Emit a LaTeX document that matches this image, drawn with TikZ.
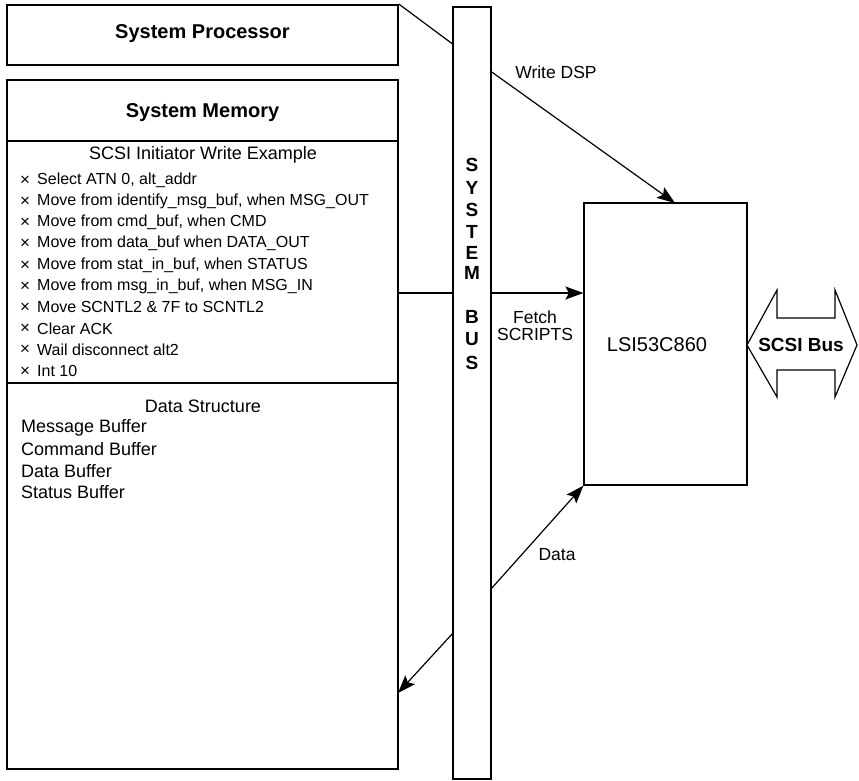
\documentclass[tikz,border=0pt]{standalone}
\usepackage{fontspec}
\setmainfont{Liberation Sans}
\usetikzlibrary{arrows.meta}
\begin{document}
\begin{tikzpicture}[x=1pt,y=-1pt,
  bigbox/.style={draw,line width=1.8pt,inner sep=0pt,minimum width=391pt},
  thinbox/.style={draw,line width=1.2pt,inner sep=0pt},
  conn/.style={line width=1.2pt},
  arr/.style={line width=1.2pt,-{Stealth[length=18pt,width=13pt,inset=3.5pt]}},
  hdr/.style={font=\fontsize{20}{24}\selectfont\bfseries,inner sep=0pt},
  item/.style={font=\fontsize{16}{19}\selectfont,inner sep=0pt,anchor=west},
  ds/.style={font=\fontsize{18}{21}\selectfont,inner sep=0pt},
  lbl/.style={font=\fontsize{17.5}{20}\selectfont,inner sep=0pt,align=center},
  busletter/.style={font=\fontsize{19}{22}\selectfont\bfseries,inner sep=0pt}]
\useasboundingbox (0,0) rectangle (859,780);
% boxes
\node[bigbox,minimum height=60pt] (proc) at (202.5,35) {};
\node[hdr] (proct) at (202.5,34) {System Processor};
\node[bigbox,minimum height=689pt] (mem) at (202.5,424.5) {};
\node[hdr] (memt) at (202.5,113) {System Memory};
\draw[line width=1.4pt] (mem.west |- 0,141) coordinate (d1a) -- (mem.east |- 0,141) coordinate (d1b);
\draw[line width=1.4pt] (mem.west |- 0,383) coordinate (d2a) -- (mem.east |- 0,383) coordinate (d2b);
\node[ds] (scsit) at (203,155) {SCSI Initiator Write Example};
\foreach \t [count=\i] in {{Select ATN 0, alt\_addr},
  {Move from identify\_msg\_buf, when MSG\_OUT},
  {Move from cmd\_buf, when CMD},
  {Move from data\_buf when DATA\_OUT},
  {Move from stat\_in\_buf, when STATUS},
  {Move from msg\_in\_buf, when MSG\_IN},
  {Move SCNTL2 \& 7F to SCNTL2},
  {Clear ACK},
  {Wail disconnect alt2},
  {Int 10}}{
  \node[item] (x\i) at (20,{180.5+(\i-1)*21.2}) {\fontsize{17}{19}\selectfont×};
  \node[item] (it\i) at (37,{180+(\i-1)*21.2}) {\t};
}
\node[ds] (dst) at (203,406) {Data Structure};
\node[ds,anchor=west] (ds1) at (21,428) {Message Buffer};
\node[ds,anchor=west] (ds2) at (21,449.5) {Command Buffer};
\node[ds,anchor=west] (ds3) at (21,471) {Data Buffer};
\node[ds,anchor=west] (ds4) at (21,492.5) {Status Buffer};
% system bus
\node[thinbox,minimum width=38pt,minimum height=772pt] (bus) at (472,393) {};
\foreach \l/\yy [count=\j] in {S/165,Y/188,S/210,T/232,E/253,M/273,B/317,U/339,S/363}
  \node[busletter] (bl\j) at (472,\yy) {\l};
% LSI chip
\node[thinbox,minimum width=163pt,minimum height=282pt] (lsi) at (665.5,344) {};
\node[font=\fontsize{20}{24}\selectfont,inner sep=0pt] (lsit) at (657,345) {LSI53C860};
% SCSI bus double arrow
\draw[line width=1.2pt] (747,345) -- (777,290) -- (777,318) -- (835,318) -- (835,290)
  -- (857,345) -- (835,397) -- (835,370) -- (777,370) -- (777,397) -- cycle;
\node[hdr,font=\fontsize{19}{22}\selectfont\bfseries] (scsib) at (801,345) {SCSI Bus};
% Write DSP
\coordinate (w1) at (453,44.3);
\coordinate (w2) at (491,71.5);
\coordinate (w3) at (675,203);
\draw[conn] (proc.north east) -- (w1);
\draw[arr] (w2) -- (w3);
\node[lbl] (wl) at (556,72) {Write DSP};
% Fetch SCRIPTS
\coordinate (f1) at (453,293);
\coordinate (f2) at (491,293);
\draw[conn] (mem.east |- f1) -- (f1);
\draw[arr] (f2) -- (lsi.west |- f2);
\node[lbl,font=\fontsize{17.5}{17}\selectfont] (fl) at (535,326) {Fetch\\SCRIPTS};
% Data
\coordinate (dd1) at (491,589);
\coordinate (dd2) at (453,633);
\coordinate (dd3) at (398,693);
\draw[arr] (dd1) -- (lsi.south west);
\draw[arr] (dd2) -- (dd3);
\node[lbl] (dl) at (557,555) {Data};
\end{tikzpicture}
\end{document}
